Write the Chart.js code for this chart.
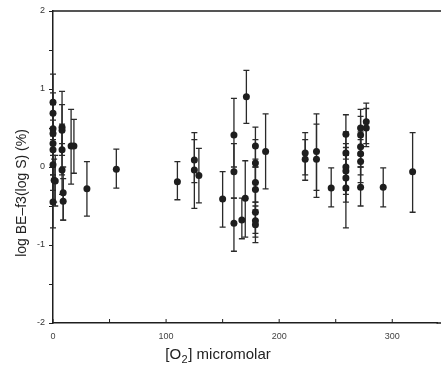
<!DOCTYPE html>
<html>
<head>
<meta charset="utf-8">
<script src="https://cdn.jsdelivr.net/npm/chart.js@4/dist/chart.umd.min.js"></script>
<style>
html,body{margin:0;padding:0;background:#fff;}
#wrap{width:441px;height:367px;}
</style>
</head>
<body>
<div id="wrap"><canvas id="c" width="441" height="367"></canvas></div>
<script>
// [O2] micromolar
const xs = [0,0,0,0,0,0,0,1,0,2,
  8,8,8,8,9,9,16,18.5,30,56,
  110,125,125,129,150,160,160,160,167,170,
  171,179,179,179,179,179,179,179,188,223,
  223,233,233,246,259,259,259,259,259,259,
  272,272,272,272,272,272,277,277,292,318];
// log BE - f3(log S) (%)
const ys = [0.83,0.69,0.49,0.43,0.30,0.22,0.03,-0.17,-0.45,-0.18,
  0.51,0.47,0.22,-0.04,-0.33,-0.44,0.27,0.27,-0.28,-0.03,
  -0.19,0.09,-0.04,-0.11,-0.41,0.41,-0.06,-0.72,-0.68,-0.40,
  0.90,0.27,0.05,-0.20,-0.29,-0.58,-0.69,-0.74,0.20,0.18,
  0.10,0.20,0.10,-0.27,0.42,0.18,0.00,-0.05,-0.14,-0.27,
  0.50,0.41,0.26,0.17,0.07,-0.26,0.58,0.50,-0.26,-0.06];
const errLow = [0.45,0.40,0.20,0.15,0.00,-0.10,-0.30,-0.45,-0.78,-0.50,
  0.20,0.15,-0.10,-0.35,-0.68,-0.68,-0.22,-0.08,-0.63,-0.27,
  -0.42,-0.20,-0.53,-0.46,-0.77,0.00,-0.40,-1.08,-0.92,-0.90,
  0.56,0.00,-0.20,-0.45,-0.55,-0.85,-0.90,-0.97,-0.28,-0.10,
  -0.17,-0.30,-0.39,-0.51,0.10,-0.12,-0.30,-0.35,-0.45,-0.78,
  0.25,0.15,0.00,-0.10,-0.20,-0.50,0.30,0.26,-0.51,-0.58];
const errHigh = [1.19,0.95,0.80,0.70,0.60,0.50,0.35,0.10,-0.10,0.15,
  0.97,0.80,0.55,0.30,0.00,-0.15,0.74,0.61,0.07,0.23,
  0.07,0.44,0.35,0.24,-0.06,0.88,0.30,-0.40,-0.40,0.08,
  1.24,0.51,0.35,0.10,0.00,-0.30,-0.45,-0.50,0.68,0.44,
  0.35,0.68,0.55,-0.01,0.67,0.45,0.30,0.25,0.15,-0.05,
  0.74,0.65,0.50,0.45,0.35,0.00,0.82,0.75,-0.01,0.44];
const xTickLabels = [0,100,200,300];
const yTickLabels = [-2,-1,0,1,2];

const points = xs.map((x,i)=>({x:x,y:ys[i]}));
const INK = '#1e1e1e';

const errorBars = {
  id:'errorBars',
  beforeDatasetsDraw(chart){
    const {ctx, scales:{x, y}} = chart;
    ctx.save();
    ctx.strokeStyle = '#2a2a2a';
    ctx.lineWidth = 1.3;
    for(let i=0;i<xs.length;i++){
      const px = x.getPixelForValue(xs[i]);
      const y1 = y.getPixelForValue(errLow[i]);
      const y2 = y.getPixelForValue(errHigh[i]);
      ctx.beginPath();
      ctx.moveTo(px,y1); ctx.lineTo(px,y2);
      ctx.moveTo(px-3,y1); ctx.lineTo(px+3,y1);
      ctx.moveTo(px-3,y2); ctx.lineTo(px+3,y2);
      ctx.stroke();
    }
    ctx.restore();
  }
};

const frame = {
  id:'frame',
  afterDraw(chart){
    const {ctx, chartArea:a, scales:{x}} = chart;
    ctx.save();
    ctx.strokeStyle = INK;
    ctx.lineWidth = 1.5;
    ctx.beginPath();
    ctx.moveTo(a.left, a.top); ctx.lineTo(chart.width, a.top);
    ctx.moveTo(a.right - 1, a.bottom); ctx.lineTo(chart.width, a.bottom);
    ctx.stroke();
    // inward x ticks
    ctx.lineWidth = 1;
    ctx.beginPath();
    x.ticks.forEach(t=>{
      if (t.value % 50 !== 0) return;
      const px = x.getPixelForValue(t.value);
      ctx.moveTo(px, a.bottom); ctx.lineTo(px, a.bottom-4);
    });
    ctx.stroke();
    // y axis title
    ctx.fillStyle = '#222';
    ctx.font = '14px "Liberation Sans", Arial, sans-serif';
    ctx.textAlign = 'center';
    ctx.textBaseline = 'middle';
    ctx.translate(22, 193);
    ctx.rotate(-Math.PI/2);
    ctx.fillText('log BE\u2013f3(log S) (%)', 0, 0);
    ctx.restore();
    // x axis title with subscript
    ctx.save();
    ctx.fillStyle = '#222';
    ctx.textBaseline = 'alphabetic';
    ctx.textAlign = 'left';
    const f1 = '15px "Liberation Sans", Arial, sans-serif';
    const f2 = '11px "Liberation Sans", Arial, sans-serif';
    ctx.font = f1;
    const w1 = ctx.measureText('[O').width;
    const w3 = ctx.measureText('] micromolar').width;
    ctx.font = f2;
    const w2 = ctx.measureText('2').width + 1;
    const total = w1 + w2 + w3;
    let sx = 218 - total/2;
    const base = 359;
    ctx.font = f1; ctx.fillText('[O', sx, base);
    ctx.font = f2; ctx.fillText('2', sx + w1 + 0.5, base + 4);
    ctx.font = f1; ctx.fillText('] micromolar', sx + w1 + w2, base);
    ctx.restore();
  }
};

new Chart(document.getElementById('c'), {
  type:'scatter',
  data:{datasets:[{
    data: points,
    backgroundColor: INK,
    borderColor: INK,
    pointRadius: 3.5,
    pointHoverRadius: 3.5,
    borderWidth: 0,
    clip: false
  }]},
  options:{
    responsive:false,
    animation:false,
    events:[],
    layout:{padding:{top:11, right:-8, left:0, bottom:0}},
    plugins:{legend:{display:false}, tooltip:{enabled:false}},
    scales:{
      x:{
        type:'linear', min:0, max:340,
        afterFit(s){ s.height = 44; s.paddingRight = 0; s.paddingLeft = 0; },
        border:{display:true, color:INK, width:1.5},
        grid:{display:true, drawOnChartArea:false, drawTicks:false, color:INK},
        ticks:{
          stepSize:50, autoSkip:false, maxRotation:0, padding:8,
          color:'#444', font:{size:9, family:'"Liberation Sans", Arial, sans-serif'},
          callback:(v)=> xTickLabels.includes(v) ? String(v) : ''
        }
      },
      y:{
        type:'linear', min:-2, max:2,
        afterFit(s){ s.width = 53; },
        border:{display:true, color:INK, width:1.5},
        grid:{display:true, drawOnChartArea:false, drawTicks:true, tickLength:4, color:INK},
        ticks:{
          stepSize:0.5, autoSkip:false, padding:4,
          color:'#333', font:{size:9, family:'"Liberation Sans", Arial, sans-serif'},
          callback:(v)=> yTickLabels.includes(v) ? String(v) : ''
        }
      }
    }
  },
  plugins:[errorBars, frame]
});
</script>
</body>
</html>
